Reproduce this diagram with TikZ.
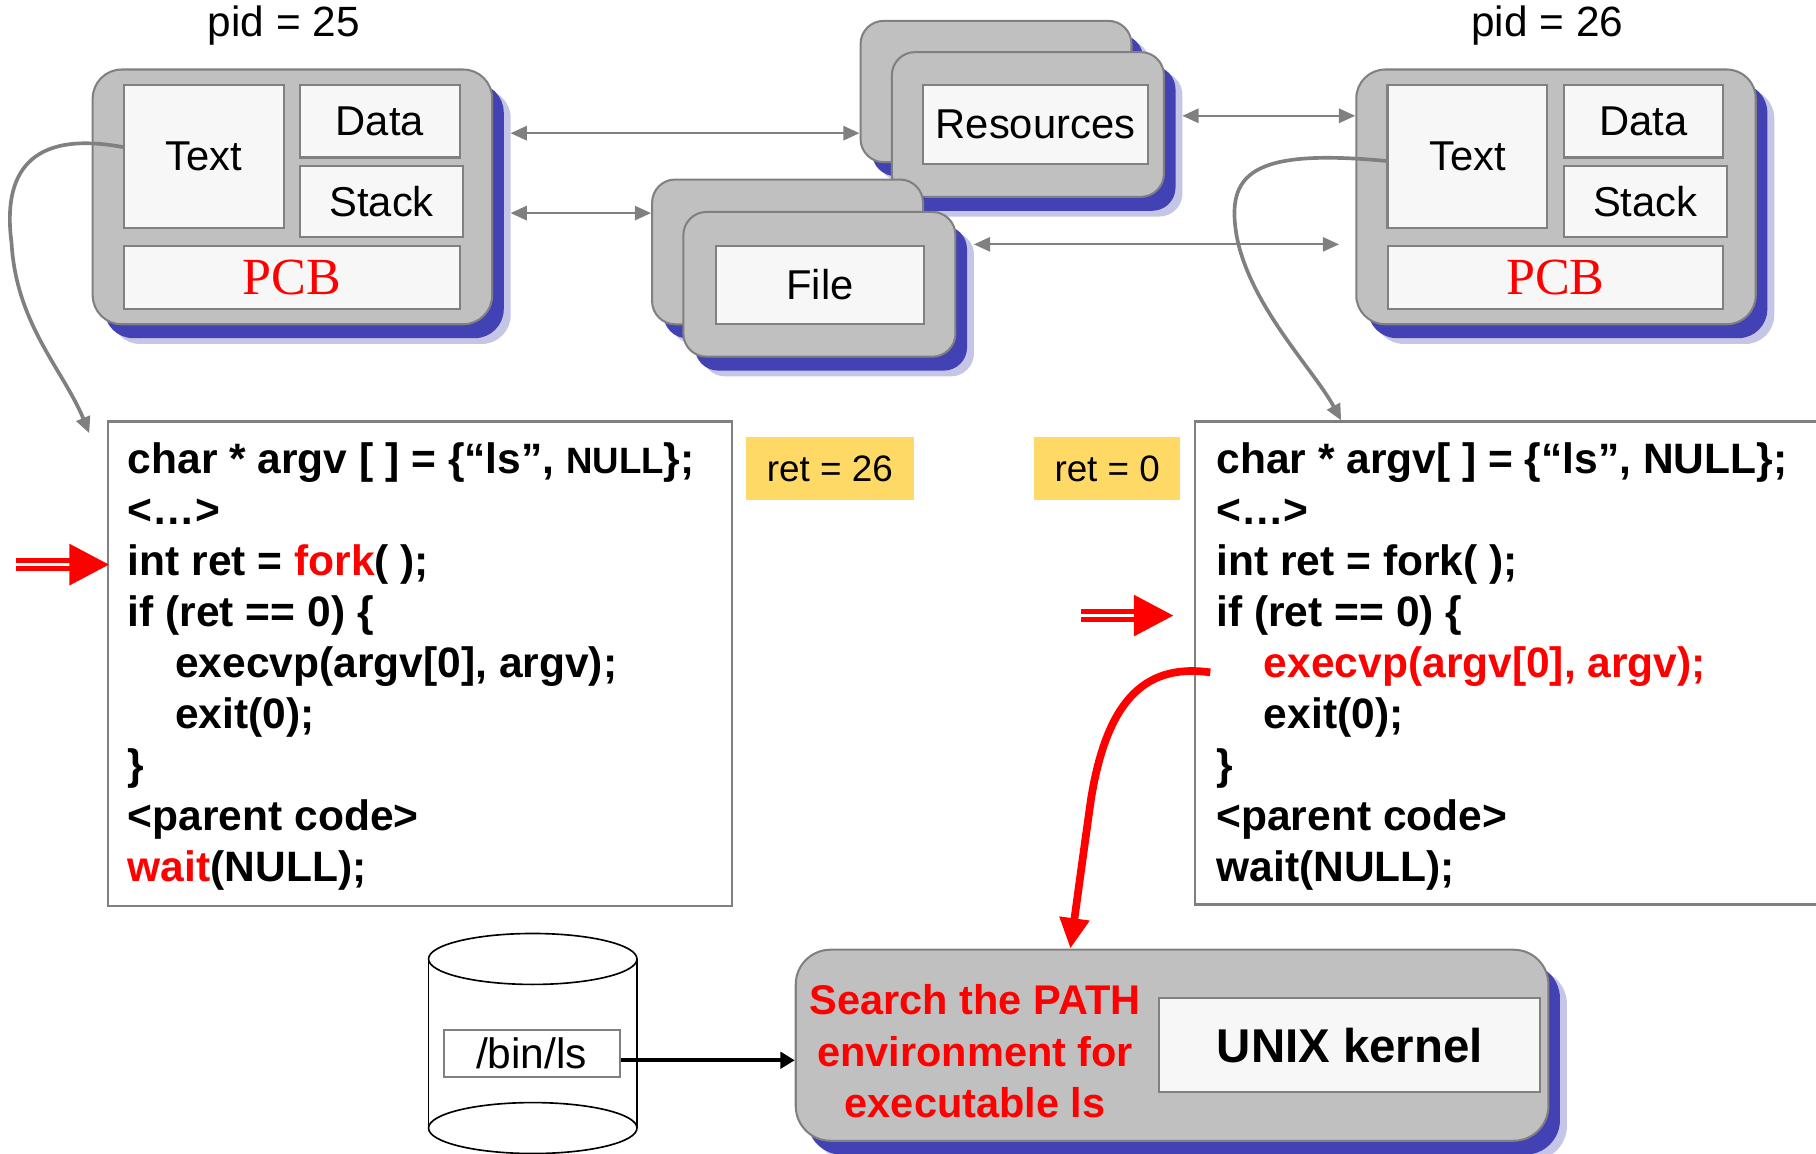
\documentclass[tikz,border=0pt]{standalone}
\usepackage{fontspec}
\setmainfont{Liberation Sans}
\newfontfamily\pcbfont{Liberation Serif}
\usetikzlibrary{arrows.meta,shadows,calc}

\definecolor{boxgray}{HTML}{C0C0C0}
\definecolor{edgegray}{HTML}{808080}
\definecolor{cellwhite}{HTML}{F7F7F7}
\definecolor{shadowblue}{HTML}{4242B4}
\definecolor{retyellow}{HTML}{FFD966}

\tikzset{
    plain/.style={inner sep=0pt, font=\fontsize{20.8}{24}\selectfont},
    procbox/.style={draw=edgegray, fill=boxgray, line width=1pt, rounded corners=0.5cm, inner sep=0pt,
        general shadow={fill=shadowblue, opacity=0.3, shadow xshift=0.32cm, shadow yshift=-0.34cm},
        general shadow={fill=shadowblue, shadow xshift=0.2cm, shadow yshift=-0.24cm}},
    cell/.style={draw=edgegray, fill=cellwhite, line width=1pt, inner sep=0pt, font=\fontsize{20.5}{24}\selectfont},
    codebox/.style={draw=edgegray, fill=white, line width=1.1pt, inner sep=0pt},
    codeline/.style={anchor=base west, inner sep=0pt, font=\fontsize{20.9}{25}\selectfont\bfseries},
    retbox/.style={fill=retyellow, inner sep=0pt, minimum height=1.1cm, font=\fontsize{18.1}{21}\selectfont},
    link/.style={draw=edgegray, line width=1.1pt, {Triangle[length=8pt,width=7pt]}-{Triangle[length=8pt,width=7pt]}},
    textlink/.style={draw=edgegray, line width=1.8pt, -{Triangle[length=8pt,width=7pt]}}
}

\begin{document}
\begin{tikzpicture}[x=0.02cm, y=-0.02cm]
    \clip (0,0) rectangle (1568,996);
    \fill[white] (0,0) rectangle (1568,996);

    % Parent and child process images
    \foreach \dx/\pid/\nm in {0/25/L, 1091/26/R} {
        \node[plain] (pid\nm) at (245+\dx,22) {pid = \pid};
        \node[procbox, minimum width=6.9cm, minimum height=4.4cm] (outer\nm) at (252.5+\dx,170) {};
        \node[cell, minimum width=2.76cm, minimum height=2.48cm] (text\nm) at (176+\dx,135) {Text};
        \node[cell, minimum width=2.76cm, minimum height=1.26cm] (data\nm) at (328+\dx,104.5) {Data};
        \node[cell, minimum width=2.82cm, minimum height=1.24cm] (stack\nm) at (329.5+\dx,174) {Stack};
        \node[cell, minimum width=5.8cm, minimum height=1.1cm, text=red,
              font=\pcbfont\fontsize{25.6}{30}\selectfont] (pcb\nm) at (252+\dx,239.5) {PCB};
    }

    % Shared resources and files
    \node[procbox, rounded corners=0.4cm, minimum width=4.68cm, minimum height=2.44cm] (resBack) at (860,79) {};
    \node[procbox, rounded corners=0.4cm, minimum width=4.7cm, minimum height=2.5cm] (resFront) at (887.5,107.5) {};
    \node[cell, minimum width=3.88cm, minimum height=1.38cm] (res) at (894,107.5) {Resources};
    \node[procbox, rounded corners=0.4cm, minimum width=4.68cm, minimum height=2.5cm] (fileBack) at (680,217.5) {};
    \node[procbox, rounded corners=0.4cm, minimum width=4.7cm, minimum height=2.5cm] (fileFront) at (707.5,245.5) {};
    \node[cell, minimum width=3.6cm, minimum height=1.36cm] (file) at (708,246) {File};

    \draw[link] ($(outerL.east |- 0,115)+(15,0)$) -- (resBack.west |- 0,115);
    \draw[link] ($(outerL.east |- 0,184)+(15,0)$) -- (fileBack.west |- 0,184);
    \draw[link] ($(resFront.east |- 0,100)+(15,0)$) -- (outerR.west |- 0,100);
    \draw[link] ($(fileFront.east |- 0,211)+(15,0)$) -- ($(outerR.west |- 0,211)+(-14,0)$);

    % Code of the parent
    \node[codebox, minimum width=10.78cm, minimum height=8.36cm] (codeL) at (362.5,573) {};
    \node[codeline] (cL1) at (110,409) {char * argv [ ] = \{“ls”, {\fontsize{18}{20}\selectfont NULL}\};};
    \node[codeline] (cL2) at (110,453) {<…>};
    \node[codeline] (cL3) at (110,497) {int ret = \textcolor{red}{fork}( );};
    \node[codeline] (cL4) at (110,541) {if (ret == 0) \{};
    \node[codeline] (cL5) at (151,585) {execvp(argv[0], argv);};
    \node[codeline] (cL6) at (151,629) {exit(0);};
    \node[codeline] (cL7) at (110,673) {\}};
    \node[codeline] (cL8) at (110,717) {<parent code>};
    \node[codeline] (cL9) at (110,761) {\textcolor{red}{wait}(NULL);};

    % Code of the child
    \node[codebox, minimum width=11.36cm, minimum height=8.34cm] (codeR) at (1316,572.5) {};
    \node[codeline] (cR1) at (1050,409) {char * argv[ ] = \{“ls”, NULL\};};
    \node[codeline] (cR2) at (1050,453) {<…>};
    \node[codeline] (cR3) at (1050,497) {int ret = fork( );};
    \node[codeline] (cR4) at (1050,541) {if (ret == 0) \{};
    \node[codeline, text=red] (cR5) at (1091,585) {execvp(argv[0], argv);};
    \node[codeline] (cR6) at (1091,629) {exit(0);};
    \node[codeline] (cR7) at (1050,673) {\}};
    \node[codeline] (cR8) at (1050,717) {<parent code>};
    \node[codeline] (cR9) at (1050,761) {wait(NULL);};

    % Return values
    \node[retbox, minimum width=2.9cm] (ret26) at (716.5,404.5) {ret = 26};
    \node[retbox, minimum width=2.52cm] (ret0) at (956,404.5) {ret = 0};

    % Text segment to code
    \draw[textlink] (textL.west |- 0,127) .. controls (25,112) and (2,150) .. (10,210)
        .. controls (14,280) and (55,320) .. ($(codeL.north west)+(-15,11)$);
    \draw[textlink] (textR.west |- 0,139) .. controls (1080,128) and (1058,150) .. (1068,205)
        .. controls (1080,265) and (1135,320) .. (codeR.north west -| 1158,0);

    % Current line markers
    \foreach \ln/\off in {cL3/96, cR4/117} {
        \draw[red, line width=2.2pt, double=white, double distance=1.7pt]
            ($(\ln.west)+(-\off,0)$) -- ($(\ln.west)+(-\off+48,0)$);
        \fill[red] ($(\ln.west)+(-\off+46,-18)$) -- ($(\ln.west)+(-\off+80,0)$) -- ($(\ln.west)+(-\off+46,18)$) -- cycle;
    }

    % Disk with the executable
    \fill[white] (370,828) rectangle (550,974);
    \draw[line width=0.8pt] (370,828) -- (370,974);
    \draw[line width=0.8pt] (550,828) -- (550,974);
    \draw[line width=0.8pt, fill=white] (460,974) ellipse [x radius=1.8cm, y radius=0.44cm];
    \draw[line width=0.8pt, fill=white] (460,828) ellipse [x radius=1.8cm, y radius=0.44cm];
    \node[cell, fill=white, minimum width=3.04cm, minimum height=0.82cm, font=\fontsize{20.9}{24}\selectfont] (binls) at (459,909.5) {/bin/ls};

    % Kernel
    \node[procbox, rounded corners=0.6cm, minimum width=13cm, minimum height=3.3cm] (kernel) at (1012,902.5) {};
    \node[inner sep=0pt, align=center, text=red, font=\fontsize{20.4}{25.3}\selectfont\bfseries] (search) at (842,908)
        {Search the PATH\\environment for\\executable ls};
    \node[cell, minimum width=6.58cm, minimum height=1.62cm, font=\fontsize{23.3}{27}\selectfont\bfseries] (unix) at (1165.5,902.5) {UNIX kernel};

    \draw[line width=1.9pt, -{Triangle[length=7pt,width=8pt]}] ([yshift=-3.4pt]binls.east) -- ([yshift=-3.4pt]binls.east -| kernel.west);
    \draw[red, line width=3.8pt, -{Triangle[length=15pt,width=14pt]}] ($(cR5.west)+(-46,5)$)
        .. controls (985,572) and (955,610) .. (942,690) .. controls (935,740) .. ($(kernel.north west)+(238,0)$);
\end{tikzpicture}
\end{document}
